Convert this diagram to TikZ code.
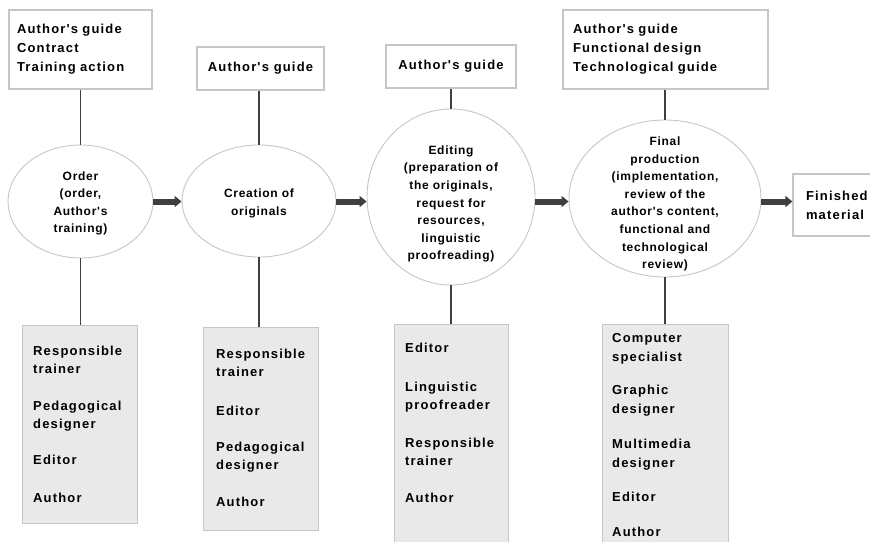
\documentclass[tikz,border=0pt]{standalone}
\usepackage{fontspec}
\usetikzlibrary{arrows.meta,shapes.geometric}

% Widely tracked bold sans for the boxes, slightly tighter in the stages
\newfontfamily\boxfont{Liberation Sans}[LetterSpace=9]
\newfontfamily\stagefont{Liberation Sans}[LetterSpace=6]

\definecolor{linkgray}{HTML}{3F3F3F}
\definecolor{edgegray}{HTML}{C6C6C6}
\definecolor{rolefill}{HTML}{E9E9E9}

\tikzset{
  docbox/.style={draw=edgegray, line width=1.2pt, fill=white,
    font=\boxfont\bfseries\fontsize{13}{19}\selectfont, align=left, inner sep=0pt},
  stage/.style={ellipse, draw=edgegray, line width=0.9pt, inner sep=0pt},
  stagetext/.style={font=\stagefont\bfseries\fontsize{12}{17.6}\selectfont,
    align=center, inner sep=0pt},
  rolebox/.style={draw=edgegray, line width=1.2pt, fill=rolefill,
    anchor=north west, inner sep=0pt},
  roletext/.style={font=\boxfont\bfseries\fontsize{13}{18}\selectfont,
    align=left, anchor=north west, inner sep=0pt},
  link/.style={draw=linkgray, line width=1.5pt},
  flow/.style={draw=linkgray, line width=6pt, -{Triangle[length=7pt,width=11pt]}}
}

\begin{document}
\begin{tikzpicture}[x=1pt,y=-1pt]
\useasboundingbox (0,0) rectangle (870,541);
\clip (0,0) rectangle (870,541);

% Input documents for each stage
\node[docbox, minimum width=143pt, minimum height=79pt, text width=127pt]
  (d1) at (80.5,49.5) {Author's guide\\Contract\\Training action};
\node[docbox, minimum width=127pt, minimum height=43pt]
  (d2) at (260.5,68.5) {Author's guide};
\node[docbox, minimum width=130pt, minimum height=43pt]
  (d3) at (451,66.5) {Author's guide};
\node[docbox, minimum width=205pt, minimum height=79pt, text width=185pt]
  (d4) at (665.5,49.5) {Author's guide\\Functional design\\Technological guide};

% Production stages
\node[stage, minimum width=145pt, minimum height=113pt] (e1) at (80.5,201.5) {};
\node[stagetext] (e1t) at (80.5,203.5) {Order\\(order,\\Author's\\training)};
\node[stage, minimum width=154pt, minimum height=112pt] (e2) at (259,201) {};
\node[stagetext] (e2t) at (259,203.5) {Creation of\\originals};
\node[stage, minimum width=168pt, minimum height=176pt] (e3) at (451,197) {};
\node[stagetext] (e3t) at (451,204) {Editing\\(preparation of\\the originals,\\request for\\resources,\\linguistic\\proofreading)};
\node[stage, minimum width=192pt, minimum height=157pt] (e4) at (665,198.5) {};
\node[stagetext] (e4t) at (665,204) {Final\\production\\(implementation,\\review of the\\author's content,\\functional and\\technological\\review)};

% Result
\node[docbox, minimum width=88pt, minimum height=62pt, text width=62pt]
  (fin) at (837,205) {Finished\\material};

% People involved in each stage
\node[rolebox, minimum width=115pt, minimum height=198pt] (r1) at (22,325) {};
\node[roletext] (r1t) at (33,346)
  {Responsible\\trainer\\[19pt]Pedagogical\\designer\\[18pt]Editor\\[20pt]Author};
\node[rolebox, minimum width=115pt, minimum height=203pt] (r2) at (203,327) {};
\node[roletext] (r2t) at (216,349)
  {Responsible\\trainer\\[21pt]Editor\\[18pt]Pedagogical\\designer\\[19pt]Author};
\node[rolebox, minimum width=114pt, minimum height=230pt] (r3) at (394,324) {};
\node[roletext] (r3t) at (405,343)
  {Editor\\[21pt]Linguistic\\proofreader\\[20pt]Responsible\\trainer\\[19pt]Author};
\node[rolebox, minimum width=126pt, minimum height=230pt] (r4) at (602,324) {};
\node[roletext, font=\boxfont\bfseries\fontsize{13}{19}\selectfont] (r4t) at (612,333)
  {Computer\\specialist\\[14pt]Graphic\\designer\\[16pt]Multimedia\\designer\\[15pt]Editor\\[16pt]Author};

% Documents feed the stages, people staff them
\foreach \s/\d/\r in {e1/d1/r1, e2/d2/r2, e3/d3/r3, e4/d4/r4} {
  \draw[link] (\s.north) -- (\s.north |- \d.south);
  \draw[link] (\s.south) -- (\s.south |- \r.north);
}

% Flow between stages
\draw[flow] (e1.east) -- (e1.east -| e2.west);
\draw[flow] (e2.east |- e1.east) -- (e3.west |- e1.east);
\draw[flow] (e3.east |- e1.east) -- (e4.west |- e1.east);
\draw[flow] (e4.east |- e1.east) -- (fin.west |- e1.east);
\end{tikzpicture}
\end{document}
